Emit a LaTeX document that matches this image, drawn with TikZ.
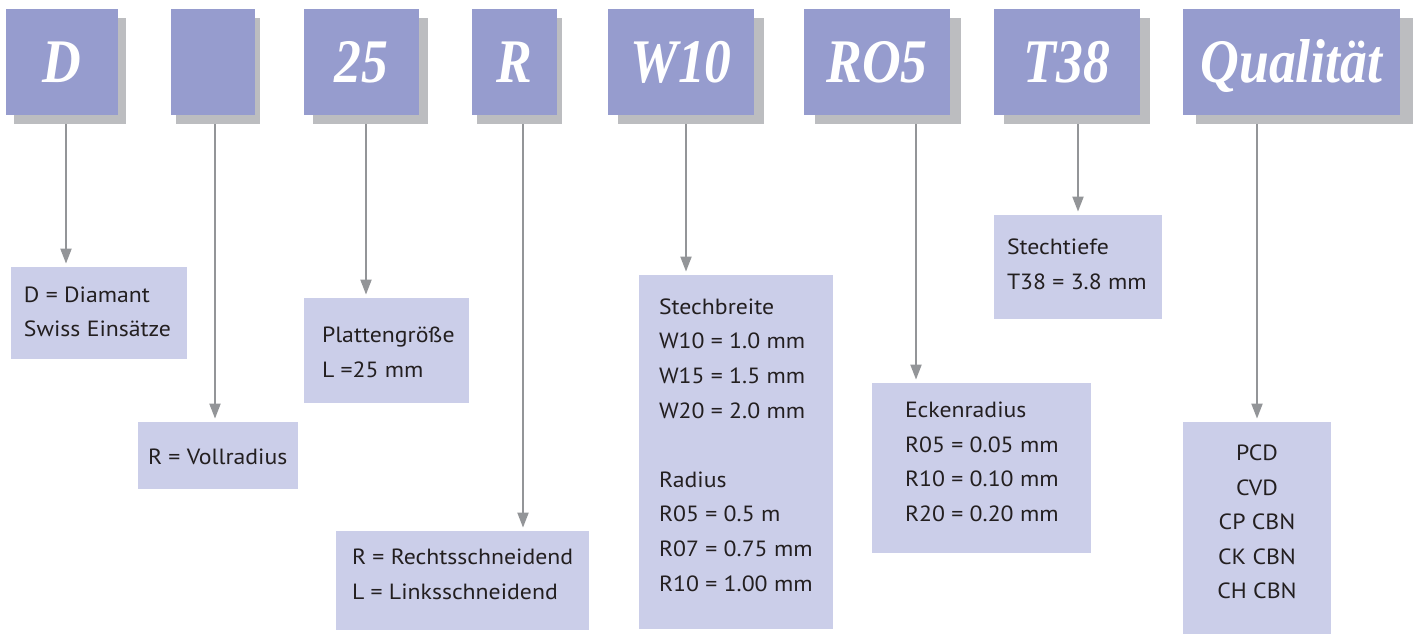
\documentclass[tikz,border=0pt]{standalone}
\usepackage{graphicx}
\usepackage{fontspec}
\setmainfont{PT Sans}[FakeStretch=1.08]
\newfontfamily\topfont{Liberation Serif}
\usetikzlibrary{shadows,arrows.meta,calc}
\definecolor{topfill}{RGB}{150,156,206}
\definecolor{shadowgray}{RGB}{188,189,192}
\definecolor{lowfill}{RGB}{203,206,233}
\definecolor{arrowgray}{RGB}{147,149,152}
\definecolor{txt}{RGB}{35,31,32}
\newcommand\topText[1]{\scalebox{0.865}[1]{#1}}
\tikzset{
  topbox/.style={fill=topfill, minimum height=53pt, inner sep=0pt, text=white,
    font=\topfont\bfseries\itshape\fontsize{31}{31}\selectfont,
    text height=20.5pt, text depth=0pt,
    general shadow={shadow xshift=#1, shadow yshift=-4.5pt, fill=shadowgray}},
  lowbox/.style={fill=lowfill, inner sep=0pt},
  lowtext/.style={text=txt, font=\fontsize{11}{17.3}\selectfont, align=left, inner sep=0pt, anchor=west},
  arr/.style={draw=arrowgray, line width=1pt, -{Triangle[length=7.5pt,width=5.5pt]}, shorten >=1.5pt},
}
\begin{document}
\begin{tikzpicture}[x=0.5pt,y=-0.5pt]
\useasboundingbox (0,0) rectangle (1418,636);
% top boxes
\node[topbox=4pt,   minimum width=56pt]   (tD)  at (62,62)     {\topText{D}};
\node[topbox=2.5pt, minimum width=42pt]   (tB)  at (213,62)    {};
\node[topbox=4.5pt, minimum width=57.5pt] (t25) at (361.5,62)  {\topText{25}};
\node[topbox=2.5pt, minimum width=42.5pt] (tR)  at (514.5,62)  {\topText{R}};
\node[topbox=5pt,   minimum width=73pt]   (tW)  at (681,62)    {\topText{W10}};
\node[topbox=5.5pt, minimum width=73pt]   (tRO) at (877,62)    {\topText{RO5}};
\node[topbox=5pt,   minimum width=73pt]   (tT)  at (1067,62)   {\topText{T38}};
\node[topbox=6.5pt, minimum width=108.5pt](tQ)  at (1291.5,62) {\topText{Qualität}};
% lower boxes
\node[lowbox, minimum width=88pt,    minimum height=46pt]   (bD)  at (99,313)     {};
\node[lowbox, minimum width=80pt,    minimum height=33.5pt] (bB)  at (218,455.5)  {};
\node[lowbox, minimum width=82.5pt,  minimum height=52.5pt] (b25) at (386.5,350.5) {};
\node[lowbox, minimum width=126.5pt, minimum height=49.5pt] (bR)  at (462.5,580.5) {};
\node[lowbox, minimum width=97pt,    minimum height=177pt]  (bW)  at (736,452)    {};
\node[lowbox, minimum width=109.5pt, minimum height=85pt]   (bRO) at (981.5,468)  {};
\node[lowbox, minimum width=84pt,    minimum height=52pt]   (bT)  at (1078,267)   {};
\node[lowbox, minimum width=74pt,    minimum height=106pt]  (bQ)  at (1257,528)   {};
% texts of the lower boxes
\node[lowtext] (sD)  at ($(bD.west)+(6.5pt,0.5pt)$)   {D = Diamant\\Swiss Einsätze};
\node[lowtext] (sB)  at ($(bB.west)+(5pt,-0.5pt)$)    {R = Vollradius};
\node[lowtext] (s25) at ($(b25.west)+(9pt,-1pt)$)     {Plattengröße\\L =25 mm};
\node[lowtext] (sR)  at ($(bR.west)+(8pt,3pt)$)       {R = Rechtsschneidend\\L = Linksschneidend};
\node[lowtext] (sW)  at ($(bW.west)+(10pt,3.5pt)$)
  {Stechbreite\\W10 = 1.0 mm\\W15 = 1.5 mm\\W20 = 2.0 mm\\[17.3pt]Radius\\R05 = 0.5 m\\R07 = 0.75 mm\\R10 = 1.00 mm};
\node[lowtext] (sRO) at ($(bRO.west)+(16.5pt,3pt)$)   {Eckenradius\\R05 = 0.05 mm\\R10 = 0.10 mm\\R20 = 0.20 mm};
\node[lowtext] (sT)  at ($(bT.west)+(6.5pt,1.5pt)$)   {Stechtiefe\\T38 = 3.8 mm};
\node[lowtext, anchor=center, align=center] (sQ) at ($(bQ.center)+(0,3pt)$) {PCD\\CVD\\CP CBN\\CK CBN\\CH CBN};
% arrow columns
\coordinate (xD) at (66,0);
\coordinate (xB) at (215,0);
\coordinate (x25) at (366,0);
\coordinate (xR) at (523,0);
\coordinate (xW) at (686,0);
\coordinate (xRO) at (916,0);
\coordinate (xT) at (1078,0);
\coordinate (xQ) at (1257,0);
\foreach \t/\b/\c in {tD/bD/xD, tB/bB/xB, t25/b25/x25, tR/bR/xR, tW/bW/xW, tRO/bRO/xRO, tT/bT/xT, tQ/bQ/xQ}
  \draw[arr] ($(\t.south -| \c)+(0,-4.5pt)$) -- (\b.north -| \c);
\end{tikzpicture}
\end{document}
